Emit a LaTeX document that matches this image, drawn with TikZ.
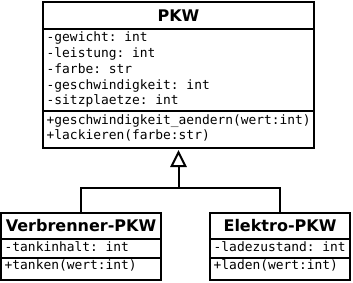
\documentclass[tikz,border=0pt]{standalone}
\usepackage{fontspec}
\setmainfont{DejaVu Sans}
\newfontfamily\umlmono{DejaVu Sans Mono}
\frenchspacing
\tikzset{
  classbox/.style={draw=black, line width=2pt, fill=white, anchor=north west, inner sep=0pt, outer sep=0pt},
  titletext/.style={anchor=base, inner sep=0pt, font=\fontsize{16}{16}\selectfont\bfseries},
  membertext/.style={anchor=base west, inner sep=0pt, font=\fontsize{12.9}{13}\selectfont\umlmono\frenchspacing},
  sepline/.style={draw=black, line width=2pt},
  connector/.style={draw=black, line width=2pt},
  tri/.style={draw=black, fill=white, line width=2pt, line join=miter}
}
\begin{document}
\begin{tikzpicture}[x=1pt, y=-1pt]
\useasboundingbox[fill=white] (0,0) rectangle (353,282);
% PKW
\node[classbox, minimum width=271pt, minimum height=146.5pt] (pkw) at (43,1.5) {};
\draw[sepline] (43,28.5) -- (314,28.5);
\draw[sepline] (43,111) -- (314,111);
\node[titletext] (pkwt) at (178.5,21.7) {PKW};
\node[membertext] (a1) at (46.5,41.7) {-gewicht: int};
\node[membertext] (a2) at (46.5,57.5) {-leistung: int};
\node[membertext] (a3) at (46.5,73.3) {-farbe: str};
\node[membertext] (a4) at (46.5,89.1) {-geschwindigkeit: int};
\node[membertext] (a5) at (46.5,104.9) {-sitzplaetze: int};
\node[membertext] (m1) at (46.5,124) {+geschwindigkeit\_aendern(wert:int)};
\node[membertext] (m2) at (46.5,139.8) {+lackieren(farbe:str)};
% Verbrenner
\node[classbox, minimum width=160pt, minimum height=67.5pt] (verb) at (1,212.5) {};
\draw[sepline] (1,239) -- (161,239);
\draw[sepline] (1,258) -- (161,258);
\node[titletext] (verbt) at (81,231.7) {Verbrenner-PKW};
\node[membertext] (va) at (4.5,251) {-tankinhalt: int};
\node[membertext] (vm) at (4.5,269.5) {+tanken(wert:int)};
% Elektro
\node[classbox, minimum width=140pt, minimum height=67.5pt] (elek) at (210,212.5) {};
\draw[sepline] (210,239) -- (350,239);
\draw[sepline] (210,258) -- (350,258);
\node[titletext] (elekt) at (280,231.7) {Elektro-PKW};
\node[membertext] (ea) at (213.5,251) {-ladezustand: int};
\node[membertext] (em) at (213.5,269.5) {+laden(wert:int)};
% connectors
\coordinate (j) at (178.5,188);
\path (pkw.south) ++(0,4.3) coordinate (apex) ++(0,13.7) coordinate (tbase);
\draw[connector] (verb.north) |- (j) -| (elek.north);
\draw[connector] (j) -- (tbase);
\draw[tri] (apex) -- ++(-6.8,13.7) -- ++(13.6,0) -- cycle;
\end{tikzpicture}
\end{document}
